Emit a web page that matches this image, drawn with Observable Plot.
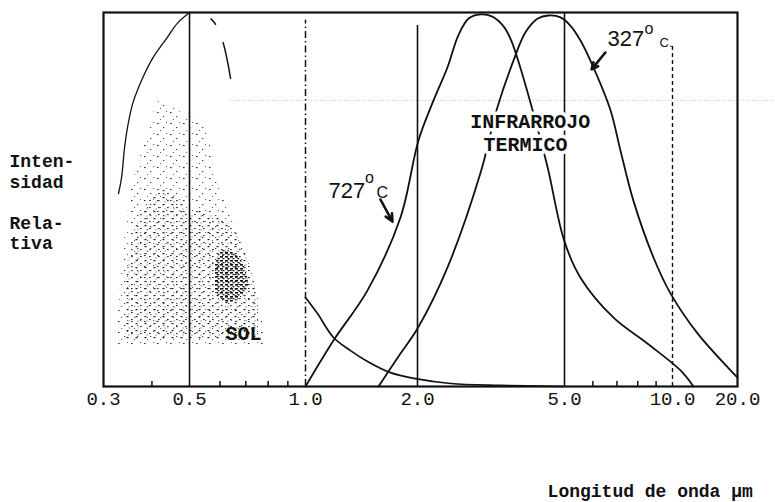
<!DOCTYPE html>
<html><head><meta charset="utf-8">
<script src="https://cdn.jsdelivr.net/npm/d3@7"></script>
<script src="https://cdn.jsdelivr.net/npm/@observablehq/plot@0.6"></script>
<style>body{margin:0;background:#fff}#chart svg{display:block}</style>
</head><body><div id="chart"></div>
<script>
// Wavelength ticks (µm)
const xTicks = [0.3, 0.5, 1, 2, 5, 10, 20];
const minorTicks = [0.4, 0.6, 0.7, 0.8, 0.9, 6, 7, 8, 9];

// 727 °C curve
const c727X = [1.0, 1.189, 1.468, 1.80, 2.012, 2.21, 2.41, 2.58, 2.75, 2.96, 3.19, 3.42, 3.57, 3.73, 4.10, 4.50, 4.99, 5.54, 6.85, 8.51, 10.89, 12.51];
const c727Y = [0, 0.123, 0.257, 0.452, 0.658, 0.765, 0.853, 0.939, 0.984, 0.995, 0.989, 0.963, 0.930, 0.877, 0.738, 0.586, 0.390, 0.291, 0.184, 0.115, 0.043, 0];

// 327 °C curve
const c327X = [1.571, 1.80, 2.0, 2.41, 2.96, 3.29, 3.64, 3.92, 4.23, 4.52, 4.88, 5.19, 5.54, 6.02, 6.72, 7.16, 7.78, 8.85, 9.87, 13.06, 19.16, 20];
const c327Y = [0, 0.088, 0.155, 0.318, 0.570, 0.746, 0.872, 0.947, 0.984, 0.992, 0.987, 0.965, 0.925, 0.853, 0.738, 0.631, 0.497, 0.345, 0.249, 0.142, 0.035, 0.024];

// Sun (SOL) curve tail beyond 1 µm
const sunTailX = [1.0, 1.077, 1.189, 1.321, 1.468, 1.692, 1.975, 2.46, 3.35, 4.95];
const sunTailY = [0.238, 0.195, 0.131, 0.096, 0.067, 0.037, 0.021, 0.008, 0.003, 0];

// Sun curve, rising side (solid) and falling side (broken)
const sunUpX = [0.328, 0.334, 0.340, 0.346, 0.357, 0.379, 0.403, 0.438, 0.465, 0.5];
const sunUpY = [0.516, 0.559, 0.639, 0.693, 0.757, 0.826, 0.880, 0.933, 0.971, 1.0];
const sunDownX = [0.5, 0.543, 0.577, 0.609, 0.639];
const sunDownY = [1.0, 0.995, 0.976, 0.925, 0.824];

// Stippled SOL spectrum envelopes
const stipX = [0.326, 0.340, 0.361, 0.391, 0.420, 0.451, 0.488, 0.518, 0.550, 0.584, 0.631, 0.678, 0.720, 0.755, 0.778];
const stipTop = [0.150, 0.390, 0.564, 0.671, 0.765, 0.751, 0.725, 0.717, 0.698, 0.564, 0.484, 0.404, 0.324, 0.230, 0.163];
const stipBase = 0.110;
const stipMidX = [0.340, 0.361, 0.395, 0.433, 0.473, 0.503, 0.534, 0.574, 0.620, 0.678, 0.729, 0.755];
const stipMidTop = [0.230, 0.417, 0.497, 0.524, 0.497, 0.457, 0.471, 0.457, 0.444, 0.390, 0.297, 0.230];
const stipMidBase = 0.123;
const stipDenseX = [0.584, 0.609, 0.646, 0.686, 0.711];
const stipDenseTop = [0.324, 0.364, 0.358, 0.332, 0.283];
const stipDenseBot = [0.257, 0.230, 0.225, 0.241, 0.270];

// Vertical reference lines
const solidLines = [0.5, 5];
const line2 = [2];
const line2Top = 0.965;
const dashDotLines = [1];
const dashDotTop = 0.979;
const dashedLines = [10];
const dashedTop = 0.917;

// Arrows (label -> curve)
const arrowX1 = [1.590, 6.50];
const arrowY1 = [0.500, 0.893];
const arrowX2 = [1.713, 5.95];
const arrowY2 = [0.441, 0.848];

const zipXY = (xs, ys) => xs.map((x, i) => ({x, y: ys[i]}));
const zipArea = (xs, y1s, y2s) => xs.map((x, i) => ({x, y1: Array.isArray(y1s) ? y1s[i] : y1s, y2: y2s[i]}));
const arrows = arrowX1.map((x1, i) => ({x1, y1: arrowY1[i], x2: arrowX2[i], y2: arrowY2[i]}));

const mono = "Liberation Mono, DejaVu Sans Mono, monospace";
const sans = "Liberation Sans, Arial, sans-serif";

const chart = Plot.plot({
  width: 775,
  height: 502,
  marginLeft: 103,
  marginRight: 38,
  marginTop: 12,
  marginBottom: 116,
  style: {fontFamily: mono, background: "#fff", color: "#111"},
  x: {type: "log", domain: [0.3, 0.5, 1, 2, 5, 10, 20], range: [103, 189, 305, 417, 564, 672, 737], axis: null},
  y: {domain: [0, 1], axis: null},
  marks: [
    // scan line
    Plot.ruleY([0.765], {x1: 0.639, x2: 30, stroke: "#c4c4c4", strokeWidth: 1, strokeDasharray: "1 2"}),
    // stipple
    Plot.areaY(zipArea(stipX, stipBase, stipTop), {x: "x", y1: "y1", y2: "y2", fill: "url(#stipSparse)", curve: "catmull-rom"}),
    Plot.areaY(zipArea(stipMidX, stipMidBase, stipMidTop), {x: "x", y1: "y1", y2: "y2", fill: "url(#stipMid)", curve: "catmull-rom"}),
    Plot.areaY(zipArea(stipDenseX, stipDenseBot, stipDenseTop), {x: "x", y1: "y1", y2: "y2", fill: "url(#stipDense)", curve: "catmull-rom"}),
    // vertical lines
    Plot.ruleX(solidLines, {y1: 0, y2: 1, stroke: "#111", strokeWidth: 1.6}),
    Plot.ruleX(line2, {y1: 0, y2: line2Top, stroke: "#111", strokeWidth: 1.6}),
    Plot.ruleX(dashDotLines, {y1: 0, y2: dashDotTop, stroke: "#111", strokeWidth: 1.5, strokeDasharray: "7 3 1.5 3"}),
    Plot.ruleX(dashedLines, {y1: 0, y2: dashedTop, stroke: "#111", strokeWidth: 1.4, strokeDasharray: "4 3"}),
    // minor ticks
    Plot.axisX(minorTicks, {anchor: "bottom", tickSize: -5, tickFormat: () => "", strokeWidth: 1.5}),
    // curves
    Plot.line(zipXY(sunUpX, sunUpY), {x: "x", y: "y", stroke: "#111", strokeWidth: 1.3, curve: "catmull-rom"}),
    Plot.line(zipXY(sunDownX, sunDownY), {x: "x", y: "y", stroke: "#111", strokeWidth: 1.5, curve: "catmull-rom", strokeDasharray: "0 23 7 20 40"}),
    Plot.line(zipXY(sunTailX, sunTailY), {x: "x", y: "y", stroke: "#111", strokeWidth: 1.7, curve: "catmull-rom"}),
    Plot.line(zipXY(c727X, c727Y), {x: "x", y: "y", stroke: "#111", strokeWidth: 1.8, curve: "catmull-rom"}),
    Plot.line(zipXY(c327X, c327Y), {x: "x", y: "y", stroke: "#111", strokeWidth: 1.8, curve: "catmull-rom"}),
    // arrows
    Plot.arrow(arrows, {x1: "x1", y1: "y1", x2: "x2", y2: "y2", stroke: "#111", strokeWidth: 2.6, headLength: 10, headAngle: 50}),
    // frame
    Plot.frame({stroke: "#111", strokeWidth: 2.2}),
    // tick labels
    Plot.text(xTicks, {x: d => d, y: 0, dy: 12, text: d => d.toFixed(1), fontSize: 19, fontFamily: mono, fill: "#111"}),
    // annotations
    Plot.text(["INFRARROJO"], {x: [4.04], y: [0.707], text: d => d, fontSize: 20, fontFamily: mono, fontWeight: "bold", stroke: "white", strokeWidth: 7, fill: "#111"}),
    Plot.text(["TERMICO"], {x: [3.92], y: [0.648], text: d => d, fontSize: 20, fontFamily: mono, fontWeight: "bold", stroke: "white", strokeWidth: 7, fill: "#111"}),
    Plot.text(["SOL"], {x: [0.690], y: [0.142], text: d => d, fontSize: 20, fontFamily: mono, fontWeight: "bold", fill: "#111"}),
    Plot.text(["727"], {x: [1.153], y: [0.524], text: d => d, fontSize: 22, fontFamily: sans, textAnchor: "start", fill: "#111"}),
    Plot.text(["o"], {x: [1.486], y: [0.558], text: d => d, fontSize: 16, fontFamily: sans, fill: "#111"}),
    Plot.text(["C"], {x: [1.552], y: [0.519], text: d => d, fontSize: 16, fontFamily: sans, textAnchor: "start", fill: "#111"}),
    Plot.text(["327"], {x: [6.59], y: [0.929], text: d => d, fontSize: 22, fontFamily: sans, textAnchor: "start", fill: "#111"}),
    Plot.text(["o"], {x: [8.60], y: [0.956], text: d => d, fontSize: 16, fontFamily: sans, fill: "#111"}),
    Plot.text(["C."], {x: [9.20], y: [0.920], text: d => d, fontSize: 13, fontFamily: sans, textAnchor: "start", fill: "#111"}),
    // y-axis label (left margin)
    Plot.text(["Inten-", "sidad", "Rela-", "tiva"], {frameAnchor: "left", dx: -94, y: [0.602, 0.545, 0.436, 0.382], text: d => d, textAnchor: "start", fontSize: 18, fontFamily: mono, fontWeight: "bold", fill: "#111"}),
    // x-axis title
    Plot.text(["Longitud de onda µm"], {x: [4.50], y: [-0.281], text: d => d, textAnchor: "start", fontSize: 18, fontFamily: mono, fontWeight: "bold", fill: "#111"})
  ]
});

const svg = d3.select(chart);
svg.insert("defs", ":first-child").html(`
  <pattern id="stipSparse" patternUnits="userSpaceOnUse" width="13" height="11">
    <rect x="1" y="2" width="1.6" height="1.1" fill="#333"/>
    <rect x="7" y="6" width="1.3" height="1.1" fill="#444"/>
    <rect x="10" y="1" width="1.1" height="1" fill="#666"/>
    <rect x="4" y="9" width="1.1" height="1" fill="#666"/>
  </pattern>
  <pattern id="stipMid" patternUnits="userSpaceOnUse" width="9" height="7">
    <rect x="0.5" y="1" width="2" height="1.2" fill="#222"/>
    <rect x="5" y="4" width="1.7" height="1.1" fill="#333"/>
    <rect x="2.5" y="5.5" width="1.1" height="0.9" fill="#555"/>
  </pattern>
  <pattern id="stipDense" patternUnits="userSpaceOnUse" width="5" height="4">
    <rect x="0" y="0" width="3" height="1.6" fill="#111"/>
    <rect x="2.5" y="2" width="2" height="1.3" fill="#222"/>
  </pattern>
`);
document.getElementById("chart").appendChild(chart);
</script>
</body></html>
